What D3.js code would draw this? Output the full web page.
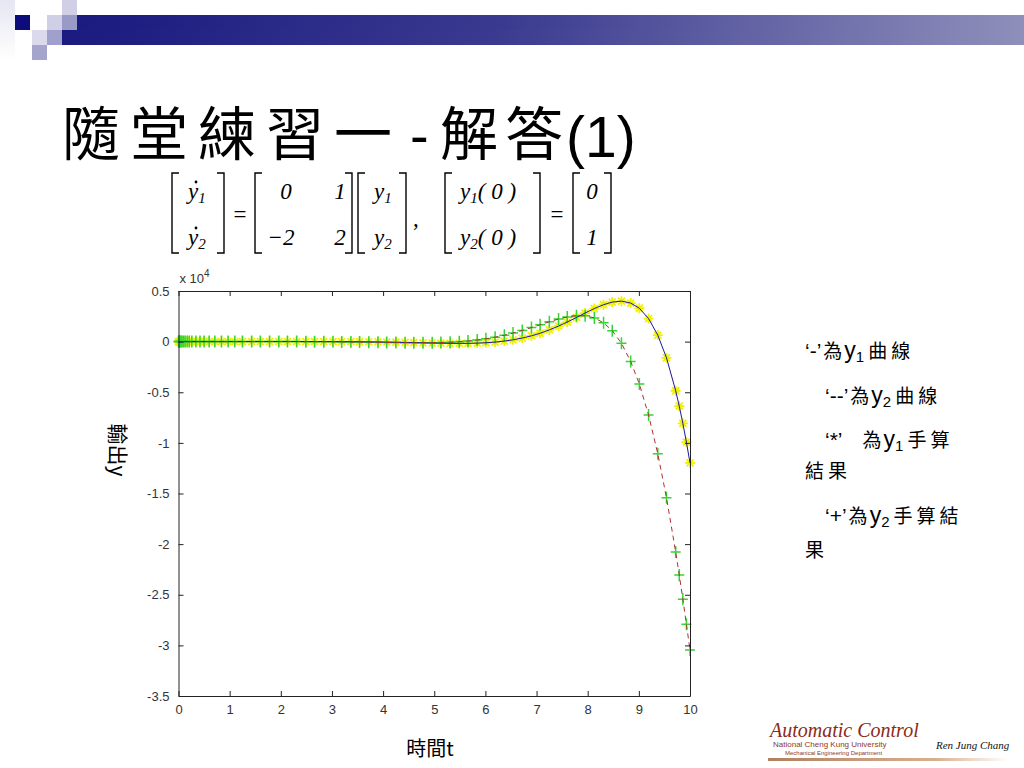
<!DOCTYPE html>
<html><head><meta charset="utf-8">
<script src="https://cdn.jsdelivr.net/npm/d3@7"></script>
<style>
html,body{margin:0;padding:0;background:#fff;}
svg{display:block;}
</style></head>
<body>
<svg id="c" width="1024" height="768"></svg>
<script>
// ---------------- data ----------------
const tValues = [0, 0.01, 0.02, 0.03, 0.05, 0.07, 0.1, 0.13, 0.17, 0.21, 0.26, 0.34, 0.42, 0.5, 0.6, 0.71, 0.84, 0.97, 1.1,
  1.25, 1.43, 1.60, 1.78, 1.96, 2.13, 2.31, 2.49, 2.66, 2.84, 3.02, 3.19, 3.37, 3.54, 3.72, 3.90, 4.07, 4.25, 4.43, 4.60,
  4.78, 4.96, 5.13, 5.31, 5.49, 5.66, 5.84, 6.01, 6.19, 6.37, 6.54, 6.72, 6.90, 7.07, 7.25, 7.43, 7.60, 7.78, 7.95, 8.13,
  8.31, 8.48, 8.66, 8.84, 9.01, 9.19, 9.37, 9.54, 9.72, 9.79, 9.86, 9.93, 10.0];
const y1Values = [0, 0.01, 0.02, 0.03, 0.05, 0.08, 0.11, 0.15, 0.20, 0.26, 0.33, 0.47, 0.62, 0.79, 1.03, 1.33, 1.73, 2.18, 2.68,
  3.31, 4.14, 4.95, 5.80, 6.57, 7.14, 7.44, 7.31, 6.63, 5.08, 2.49, -1.18, -6.57, -13.4, -22.6, -34.0, -46.9, -62.8, -80.6, -98.9,
  -118.8, -138.4, -154.8, -167.7, -172.9, -168.6, -147.4, -110.3, -45.4, 50.6, 176.2, 352.5, 574, 828, 1160, 1537, 1934, 2386, 2823, 3268,
  3649, 3902, 3997, 3808, 3297, 2277, 643, -1596, -4851, -6376, -8069, -9930, -11982];
const y2Values = [1, 1.02, 1.04, 1.06, 1.10, 1.15, 1.21, 1.28, 1.37, 1.46, 1.59, 1.79, 2.01, 2.24, 2.53, 2.87, 3.27, 3.67, 4.04,
  4.41, 4.72, 4.81, 4.57, 3.87, 2.68, 0.66, -2.29, -6.04, -11.3, -17.9, -25.4, -34.9, -45.1, -57.1, -69.8, -82.0, -94.0, -104.0, -110.0,
  -110.9, -103.8, -87.0, -54.3, -3.2, 63.8, 162.9, 282, 440, 632, 846, 1102, 1384, 1663, 1958, 2230, 2436, 2562, 2551, 2344,
  1858, 1078, -162, -1952, -4195, -7254, -11070, -15409, -20775, -23053, -25435, -27906, -30464];
const xTicks = [0, 1, 2, 3, 4, 5, 6, 7, 8, 9, 10];
const yTicks = [5000, 0, -5000, -10000, -15000, -20000, -25000, -30000, -35000];
const yTickLabels = ["0.5", "0", "-0.5", "-1", "-1.5", "-2", "-2.5", "-3", "-3.5"];
const titleParts = ["隨堂練習一", "-", "解答", "(1)"];
const xLabel = "時間t";
const yLabel = "輸出y";

// ---------------- drawing ----------------
const svg = d3.select("#c");
const defs = svg.append("defs");

// header decoration
const g1 = defs.append("linearGradient").attr("id","bar").attr("x1","0").attr("x2","1");
g1.append("stop").attr("offset","0").attr("stop-color","#1a1a80");
g1.append("stop").attr("offset","0.45").attr("stop-color","#3a3a90");
g1.append("stop").attr("offset","1").attr("stop-color","#8f8fbb");
const g2 = defs.append("linearGradient").attr("id","fade").attr("x1","0").attr("x2","0").attr("y1","0").attr("y2","1");
g2.append("stop").attr("offset","0").attr("stop-color","#e6e6f2");
g2.append("stop").attr("offset","1").attr("stop-color","#ffffff");
svg.append("rect").attr("x",0).attr("y",0).attr("width",15).attr("height",60).attr("fill","url(#fade)");
svg.append("rect").attr("x",77).attr("y",15).attr("width",947).attr("height",15).attr("fill","url(#bar)");
svg.append("rect").attr("x",62).attr("y",30).attr("width",962).attr("height",15).attr("fill","url(#bar)");
const sq = [[15,15,"#0c0c7a"],[47,15,"#cfcfe6"],[62,0,"#cfcfe6"],[62,15,"#9a9ac8"],[32,30,"#dadaec"],[47,30,"#a0a0cc"],[32,45,"#a4a4cc"]];
svg.selectAll("rect.sq").data(sq).enter().append("rect").attr("class","sq")
  .attr("x",d=>d[0]).attr("y",d=>d[1]).attr("width",15).attr("height",15).attr("fill",d=>d[2]);

// title (per-character x positions, no trailing letter-spacing)
const cjk = "'Noto Sans CJK TC',sans-serif";
const lat = "'Liberation Sans',Arial,sans-serif";
const title = svg.append("text").attr("y",155).attr("fill","#000");
title.append("tspan").attr("x","62 130 198 266 334").attr("font-family",cjk).attr("font-size",58).text(titleParts[0]);
title.append("tspan").attr("x",410).attr("font-family",lat).attr("font-size",56).text(titleParts[1]);
title.append("tspan").attr("x","440 505").attr("font-family",cjk).attr("font-size",58).text(titleParts[2]);
title.append("tspan").attr("x",566).attr("dy",2).attr("font-family",lat).attr("font-size",57).text(titleParts[3]);

// equation
const eq = svg.append("g").attr("font-family","'Liberation Serif',serif").attr("font-size",23).attr("fill","#000");
function bracket(xp, open) {
  const ya = 173, yb = 253, w = 7;
  const p = open ? `M${xp+w},${ya}H${xp}V${yb}H${xp+w}` : `M${xp-w},${ya}H${xp}V${yb}H${xp-w}`;
  eq.append("path").attr("d",p).attr("fill","none").attr("stroke","#000").attr("stroke-width",1.4);
}
function it(xp, yp, s, anchor) {
  return eq.append("text").attr("x",xp).attr("y",yp).attr("font-style","italic").attr("text-anchor",anchor||"middle").text(s);
}
function ysub(xp, yp, n, extra) {
  const t = eq.append("text").attr("x",xp).attr("y",yp).attr("font-style","italic");
  t.append("tspan").text("y");
  t.append("tspan").attr("font-size",15).attr("dy",4).text(n);
  if (extra) t.append("tspan").attr("dy",-4).text(extra);
  return t;
}
const r1 = 199, r2 = 245;
bracket(172,true); bracket(224,false);
ysub(188,r1,"1"); ysub(188,r2,"2");
eq.append("circle").attr("cx",196).attr("cy",r1-17).attr("r",1.4);
eq.append("circle").attr("cx",196).attr("cy",r2-17).attr("r",1.4);
eq.append("text").attr("x",240).attr("y",222).attr("text-anchor","middle").text("=");
bracket(255,true); bracket(352,false);
it(286,r1,"0"); it(340,r1,"1"); it(281,r2,"−2"); it(340,r2,"2");
bracket(358,true); bracket(406,false);
ysub(374,r1,"1"); ysub(374,r2,"2");
eq.append("text").attr("x",413).attr("y",226).text(",");
bracket(445,true); bracket(540,false);
ysub(460,r1,"1","( 0 )"); ysub(460,r2,"2","( 0 )");
eq.append("text").attr("x",557).attr("y",222).attr("text-anchor","middle").text("=");
bracket(573,true); bracket(611,false);
it(592,r1,"0"); it(592,r2,"1");

// chart
const xS = d3.scaleLinear().domain([0,10]).range([178.5,690]);
const yS = d3.scaleLinear().domain([-35000,5000]).range([696,291]);
const axisColor = "#222";

svg.append("rect").attr("x",xS(0)).attr("y",yS(5000)).attr("width",xS(10)-xS(0)).attr("height",yS(-35000)-yS(5000))
  .attr("fill","#fff");

const pts = tValues.map((t,i)=>({t, y1:y1Values[i], y2:y2Values[i]}));

// markers
const starPath = "M-5,0H5M0,-5V5M-3.5,-3.5L3.5,3.5M-3.5,3.5L3.5,-3.5";
const plusPath = "M-5,0H5M0,-6V6";
svg.append("g").selectAll("path").data(pts).enter().append("path")
  .attr("d",starPath).attr("transform",d=>`translate(${xS(d.t)},${yS(d.y1)})`)
  .attr("fill","none").attr("stroke","#f0f000").attr("stroke-width",1.8);
svg.append("g").selectAll("path").data(pts).enter().append("path")
  .attr("d",plusPath).attr("transform",d=>`translate(${xS(d.t)},${yS(d.y2)})`)
  .attr("fill","none").attr("stroke","#33d633").attr("stroke-width",1.5);

// lines
svg.append("path").datum(pts).attr("fill","none").attr("stroke","#1a1a9a").attr("stroke-width",1)
  .attr("d",d3.line().x(d=>xS(d.t)).y(d=>yS(d.y1)));
svg.append("path").datum(pts).attr("fill","none").attr("stroke","#b03030").attr("stroke-width",1)
  .attr("stroke-dasharray","5,4")
  .attr("d",d3.line().x(d=>xS(d.t)).y(d=>yS(d.y2)));

// axes (MATLAB style, ticks inward, box)
function styleAxis(g){
  g.selectAll(".domain").attr("stroke",axisColor);
  g.selectAll(".tick line").attr("stroke",axisColor);
  g.selectAll(".tick text").attr("fill","#333").attr("font-family",lat).attr("font-size",13);
}
const axL = svg.append("g").attr("transform",`translate(${xS(0)},0)`)
  .call(d3.axisLeft(yS).tickValues(yTicks).tickSize(-5).tickSizeOuter(0).tickPadding(9).tickFormat((d,i)=>yTickLabels[i]));
styleAxis(axL);
const axB = svg.append("g").attr("transform",`translate(0,${yS(-35000)})`)
  .call(d3.axisBottom(xS).tickValues(xTicks).tickSize(-5).tickSizeOuter(0).tickPadding(9).tickFormat(d3.format("d")));
styleAxis(axB);
const axT = svg.append("g").attr("transform",`translate(0,${yS(5000)})`)
  .call(d3.axisTop(xS).tickValues(xTicks).tickSize(-5).tickSizeOuter(0).tickFormat(""));
styleAxis(axT);
const axR = svg.append("g").attr("transform",`translate(${xS(10)},0)`)
  .call(d3.axisRight(yS).tickValues(yTicks).tickSize(-5).tickSizeOuter(0).tickFormat(""));
styleAxis(axR);

// exponent label
const ex = svg.append("text").attr("x",xS(0)+1).attr("y",yS(5000)-8).attr("font-family",lat)
  .attr("font-size",13).attr("fill","#333");
ex.append("tspan").text("x 10");
ex.append("tspan").attr("dy",-6).attr("font-size",10).text("4");

// axis labels
svg.append("text").attr("x",430).attr("y",756).attr("text-anchor","middle")
  .attr("font-family",cjk).attr("font-size",20).attr("fill","#000").text(xLabel);
svg.append("text").attr("transform","translate(110,450) rotate(90)").attr("text-anchor","middle")
  .attr("font-family",cjk).attr("font-size",21).attr("fill","#000").text(yLabel);

// annotation text
const ann = svg.append("g").attr("font-family",cjk).attr("font-size",19).attr("letter-spacing",4).attr("fill","#000");
function annLine(xp, yp, parts){
  const t = ann.append("text").attr("x",xp).attr("y",yp);
  parts.forEach(p=>{
    const s = t.append("tspan").text(p[0]);
    if (p[1]==="lat") s.attr("font-family",lat).attr("font-size",21).attr("letter-spacing",0);
    if (p[1]==="y") s.attr("font-family",lat).attr("font-size",23).attr("letter-spacing",0);
    if (p[1]==="sub") s.attr("font-family",lat).attr("font-size",15).attr("letter-spacing",4).attr("dy",4);
    if (p[1]==="up") s.attr("dy",-4);
    if (p[2]) s.attr("dx",p[2]);
  });
}
annLine(805,358,[["‘-’","lat"],["為",null,2],["y","y",-2],["1","sub"],["曲線","up"]]);
annLine(825,403,[["‘--’","lat"],["為",null,2],["y","y",-2],["2","sub"],["曲線","up"]]);
annLine(825,447,[["‘*’","lat"],["為",null,20],["y","y",-2],["1","sub"],["手算","up"]]);
annLine(805,478,[["結果"]]);
annLine(825,523,[["‘+’","lat"],["為",null,2],["y","y",-2],["2","sub"],["手算結","up"]]);
annLine(805,557,[["果"]]);

// logo
const lg = defs.append("linearGradient").attr("id","lg").attr("x1","0").attr("x2","1");
lg.append("stop").attr("offset","0").attr("stop-color","#b08060");
lg.append("stop").attr("offset","0.7").attr("stop-color","#d8b090");
lg.append("stop").attr("offset","1").attr("stop-color","#ffffff");
svg.append("rect").attr("x",768).attr("y",758).attr("width",240).attr("height",3).attr("fill","url(#lg)");
svg.append("text").attr("x",770).attr("y",737).attr("font-family","'Liberation Serif',serif").attr("font-style","italic")
  .attr("font-size",20).attr("fill","#8a2a1a").text("Automatic Control");
svg.append("text").attr("x",773).attr("y",747).attr("font-family",lat)
  .attr("font-size",8).attr("fill","#8a3a2a").text("National Cheng Kung University");
svg.append("text").attr("x",785).attr("y",755).attr("font-family",lat)
  .attr("font-size",6).attr("fill","#8a3a2a").text("Mechanical Engineering Department");
svg.append("text").attr("x",936).attr("y",749).attr("font-family","'Liberation Serif',serif").attr("font-style","italic")
  .attr("font-size",11).attr("fill","#111").text("Ren Jung Chang");
</script>
</body></html>
